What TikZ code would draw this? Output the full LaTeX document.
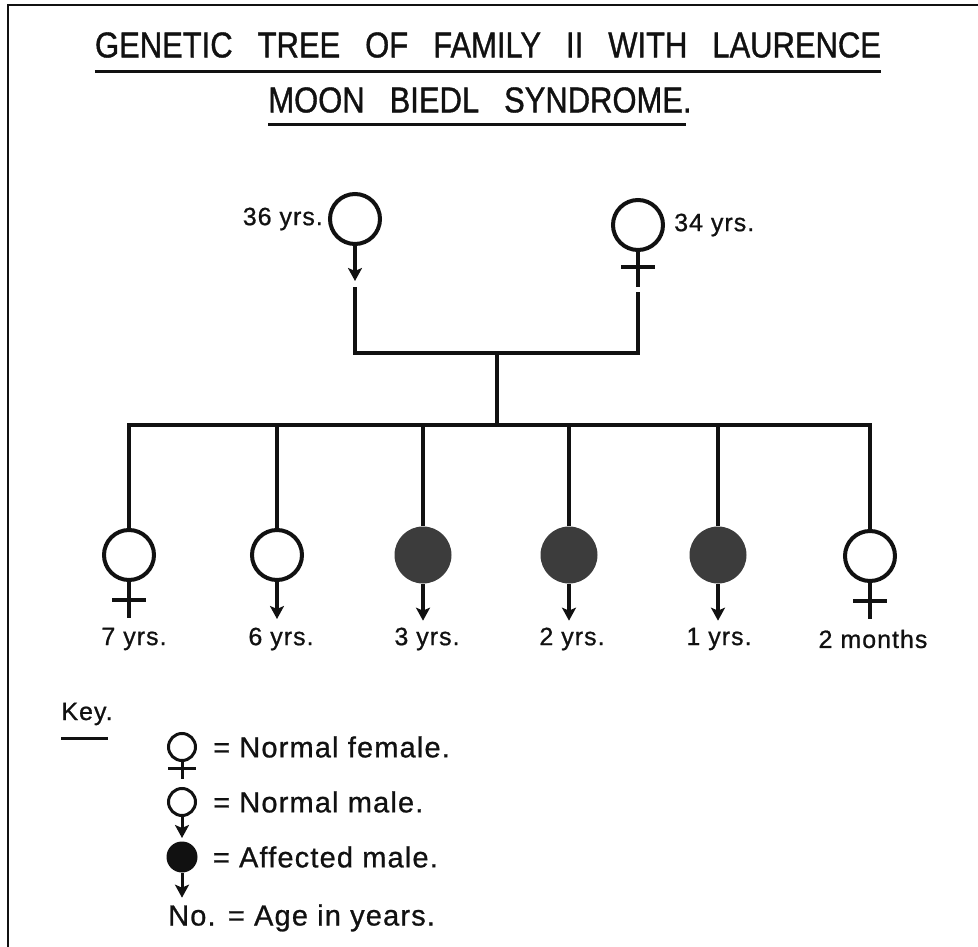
\documentclass[tikz,border=0pt]{standalone}
\usepackage{fontspec}
\setmainfont[FakeBold=0.8, LetterSpace=4]{Liberation Sans}
\newfontfamily\letterfont[FakeStretch=0.86, FakeBold=1]{Liberation Sans}
\usetikzlibrary{arrows.meta,positioning}
\definecolor{pedInk}{HTML}{111111}
\definecolor{pedAffected}{HTML}{3C3C3C}
\newcommand{\widewords}{\spaceskip=25pt\relax}
\tikzset{
    person/.style={
        circle,
        draw=pedInk,
        fill=white,
        line width=4pt,
        minimum size=50pt,
        inner sep=0pt
    },
    affected/.style={
        circle,
        draw=none,
        fill=pedAffected,
        minimum size=57pt,
        inner sep=0pt
    },
    keyperson/.style={
        person,
        line width=3pt,
        minimum size=27pt
    },
    keyaffected/.style={
        circle,
        draw=none,
        fill=pedInk,
        minimum size=31pt,
        inner sep=0pt
    },
    stem/.style={
        line width=3.5pt,
        draw=pedInk
    },
    malestem/.style={
        stem,
        -{Stealth[width=14pt,length=13pt,inset=3pt]}
    },
    link/.style={
        line width=3.5pt,
        draw=pedInk
    },
    age/.style={
        font=\fontsize{25}{28}\selectfont,
        text=pedInk,
        inner sep=0pt
    },
    keytext/.style={
        font=\fontsize{29}{32}\selectfont,
        text=pedInk,
        inner sep=0pt,
        anchor=west
    },
    heading/.style={
        font=\letterfont\fontsize{36}{40}\selectfont,
        text=pedInk,
        inner sep=0pt
    }
}

\begin{document}
\begin{tikzpicture}[x=1pt, y=-1pt]
    \useasboundingbox (0,0) rectangle (978,947);
    % what is left of the frame
    \draw[line width=2.5pt, draw=pedInk] (978,5) -- (8,5) -- (8,947);

    % Title
    \node[heading] (title1) at (488,45) {\widewords GENETIC TREE OF FAMILY II WITH LAURENCE};
    \node[heading] (title2) at (480,100) {\widewords MOON BIEDL SYNDROME.};
    \draw[link, line width=3pt] ([yshift=-14pt]title1.south west) -- ([yshift=-14pt]title1.south east);
    \draw[link, line width=3pt] ([yshift=-12pt]title2.south west) -- ([xshift=-6pt,yshift=-12pt]title2.south east);

    % Parents
    \node[person] (father) at (355,219) {};
    \node[person] (mother) at (638,225) {};
    \node[age, left=5pt of father] (fatherage) {36 yrs.};
    \node[age, right=9pt of mother] (motherage) {34 yrs.};
    \draw[malestem] (father.south) -- ++(0,35) coordinate (ftip);
    \draw[stem] (mother.south) -- ++(0,35) coordinate (mfoot);
    \draw[stem] ([xshift=-17pt,yshift=-15pt]mother.south) -- ([xshift=17pt,yshift=-15pt]mother.south);

    % Marriage and sibship lines
    \coordinate (couple) at (497,353);
    \coordinate (sibs) at (497,425);
    \draw[link] ([yshift=-6pt]ftip) |- (couple) -| ([yshift=-5pt]mfoot);
    \draw[link] (couple) -- (sibs);

    % Children
    \node[person] (c1) at (129,555) {};
    \node[person] (c2) at (277,555) {};
    \node[affected] (c3) at (423,555) {};
    \node[affected] (c4) at (569,555) {};
    \node[affected] (c5) at (718,555) {};
    \node[person] (c6) at (870,556) {};

    \draw[link] (c1.north) |- (sibs) -| (c6.north);
    \draw[link] (c2.north) -- (c2.north |- sibs);
    \draw[link] (c3.north) -- (c3.north |- sibs);
    \draw[link] (c4.north) -- (c4.north |- sibs);
    \draw[link] (c5.north) -- (c5.north |- sibs);

    \draw[stem] (c1.south) -- ++(0,36);
    \draw[stem] ([xshift=-17pt,yshift=-18pt]c1.south) -- ([xshift=17pt,yshift=-18pt]c1.south);
    \draw[malestem] (c2.south) -- ++(0,37);
    \draw[malestem] (c3.south) -- ++(0,37);
    \draw[malestem] (c4.south) -- ++(0,37);
    \draw[malestem] (c5.south) -- ++(0,37);
    \draw[stem] (c6.south) -- ++(0,36);
    \draw[stem] ([xshift=-17pt,yshift=-18pt]c6.south) -- ([xshift=17pt,yshift=-18pt]c6.south);

    \node[age] (c1age) at (134,639) {7 yrs.};
    \node[age] (c2age) at (281,639) {6 yrs.};
    \node[age] (c3age) at (427,639) {3 yrs.};
    \node[age] (c4age) at (572,639) {2 yrs.};
    \node[age] (c5age) at (719,639) {1 yrs.};
    \node[age] (c6age) at (873,639) {2 months};

    % Key
    \node[age] (keyhead) at (87,714) {Key.};
    \draw[link, line width=2.5pt] ([yshift=-13pt]keyhead.south west) -- ([xshift=-5pt,yshift=-13pt]keyhead.south east);

    \node[keyperson] (kfemale) at (182,747) {};
    \draw[stem, line width=3pt] (kfemale.south) -- ++(0,17);
    \draw[stem, line width=3pt] ([xshift=-14pt,yshift=-6pt]kfemale.south) -- ([xshift=14pt,yshift=-6pt]kfemale.south);
    \node[keytext, right=16pt of kfemale] (kfemaletext) {= Normal female.};

    \node[keyperson] (kmale) at (182,802) {};
    \draw[malestem, line width=3pt] (kmale.south) -- ++(0,21);
    \node[keytext, right=16pt of kmale] (kmaletext) {= Normal male.};

    \node[keyaffected] (kaffected) at (182,857) {};
    \draw[malestem, line width=3pt] (kaffected.south) -- ++(0,25);
    \node[keytext, right=15pt of kaffected] (kaffectedtext) {= Affected male.};

    \node[keytext] (kage) at (168,918) {No. = Age in years.};
\end{tikzpicture}
\end{document}
